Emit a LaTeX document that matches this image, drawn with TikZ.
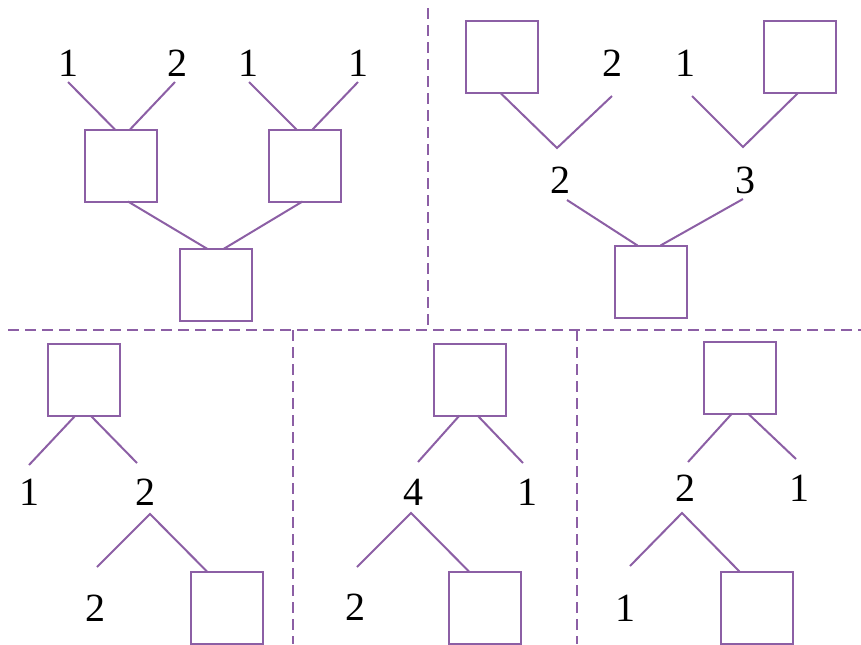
\documentclass[tikz,border=0pt]{standalone}
\usepackage{fontspec}
\setmainfont{Liberation Serif}
\usepackage{tikz}
\usetikzlibrary{calc}
\definecolor{lilac}{RGB}{140,95,165}

\begin{document}
\begin{tikzpicture}[x=0.75pt,y=0.75pt,yscale=-1,xscale=1,
  cell/.style={draw=lilac,line width=1.5pt,minimum size=54pt,inner sep=0pt,outer sep=0pt},
  num/.style={inner sep=0.75pt,font=\fontsize{30}{36}\selectfont},
  wire/.style={draw=lilac,line width=1.5pt},
  divider/.style={draw=lilac,line width=1.2pt,dash pattern=on 8.25pt off 4.5pt}]
\useasboundingbox (0,0) rectangle (861,644);

% Dividers
\draw [divider] (428,8) -- (428,330);
\draw [divider] (8,330) -- (861,330);
\draw [divider] (293,330) -- (293,644);
\draw [divider] (577,330) -- (577,644);

% Box Node
\draw (121,165.5) node (A1) [cell] {};
% Box Node
\draw (304.5,165.5) node (B1) [cell] {};
% Box Node
\draw (215.5,285) node (C1) [cell] {};
% Text Node
\draw (68,63) node (a1) [num] {1};
% Text Node
\draw (177,63) node (a2) [num] {2};
% Text Node
\draw (248,63) node (b1) [num] {1};
% Text Node
\draw (358,63) node (b2) [num] {1};
\coordinate (ta1) at (68,82);
\coordinate (ta2) at (175,82);
\coordinate (tb1) at (249,82);
\coordinate (tb2) at (358,82);
% Connection
\draw [wire] (ta1) -- ($(A1.north)+(-6,0)$);
% Connection
\draw [wire] (ta2) -- ($(A1.north)+(9,0)$);
% Connection
\draw [wire] (tb1) -- ($(B1.north)+(-8,0)$);
% Connection
\draw [wire] (tb2) -- ($(B1.north)+(8,0)$);
% Connection
\draw [wire] ($(A1.south)+(7,0)$) -- ($(C1.north)+(-8,0)$);
% Connection
\draw [wire] ($(B1.south)+(-2,0)$) -- ($(C1.north)+(8,0)$);

% Box Node
\draw (501.5,57) node (L2) [cell] {};
% Box Node
\draw (799.5,57) node (R2) [cell] {};
% Box Node
\draw (650.5,281.5) node (D2) [cell] {};
% Text Node
\draw (612,63) node (c1) [num] {2};
% Text Node
\draw (685,63) node (c2) [num] {1};
% Text Node
\draw (560,180) node (c3) [num] {2};
% Text Node
\draw (745,180) node (c4) [num] {3};
\coordinate (v2a) at (557,148);
\coordinate (v2b) at (743,147);
\coordinate (tc1) at (612,96);
\coordinate (tc2) at (692,96);
\coordinate (tc3) at (567,200);
\coordinate (tc4) at (743,199);
% Connection
\draw [wire] ($(L2.south)+(-1,0)$) -- (v2a) -- (tc1);
% Connection
\draw [wire] (tc2) -- (v2b) -- ($(R2.south)+(-1.5,0)$);
% Connection
\draw [wire] (tc3) -- ($(D2.north)+(-13,0)$);
% Connection
\draw [wire] (tc4) -- ($(D2.north)+(10,0)$);

% Box Node
\draw (84,380) node (T3) [cell] {};
% Box Node
\draw (227,607.5) node (U3) [cell] {};
% Text Node
\draw (30,492) node (d1) [num] {1};
% Text Node
\draw (145,492) node (d2) [num] {2};
% Text Node
\draw (95,608) node (d3) [num] {2};
\coordinate (td1) at (29,465);
\coordinate (td2) at (137,463);
\coordinate (v3) at (150,514);
\coordinate (td3) at (97,567);
% Connection
\draw [wire] ($(T3.south)+(-9,0)$) -- (td1);
% Connection
\draw [wire] ($(T3.south)+(7,0)$) -- (td2);
% Connection
\draw [wire] (td3) -- (v3) -- ($(U3.north)+(-20,0)$);

% Box Node
\draw (469.5,379.5) node (T4) [cell] {};
% Box Node
\draw (485,607.5) node (U4) [cell] {};
% Text Node
\draw (413,492) node (e1) [num] {4};
% Text Node
\draw (527,492) node (e2) [num] {1};
% Text Node
\draw (355,607) node (e3) [num] {2};
\coordinate (te1) at (418,462);
\coordinate (te2) at (523,463);
\coordinate (v4) at (411,513);
\coordinate (te3) at (357,567);
% Connection
\draw [wire] ($(T4.south)+(-10,0)$) -- (te1);
% Connection
\draw [wire] ($(T4.south)+(8,0)$) -- (te2);
% Connection
\draw [wire] (te3) -- (v4) -- ($(U4.north)+(-16,0)$);

% Box Node
\draw (740,377.5) node (T5) [cell] {};
% Box Node
\draw (756.5,607.5) node (U5) [cell] {};
% Text Node
\draw (685,488) node (f1) [num] {2};
% Text Node
\draw (799,488) node (f2) [num] {1};
% Text Node
\draw (625,608) node (f3) [num] {1};
\coordinate (tf1) at (688,462);
\coordinate (tf2) at (796,459);
\coordinate (v5) at (682,513);
\coordinate (tf3) at (630,566);
% Connection
\draw [wire] ($(T5.south)+(-8,0)$) -- (tf1);
% Connection
\draw [wire] ($(T5.south)+(8,0)$) -- (tf2);
% Connection
\draw [wire] (tf3) -- (v5) -- ($(U5.north)+(-17,0)$);

\end{tikzpicture}
\end{document}
